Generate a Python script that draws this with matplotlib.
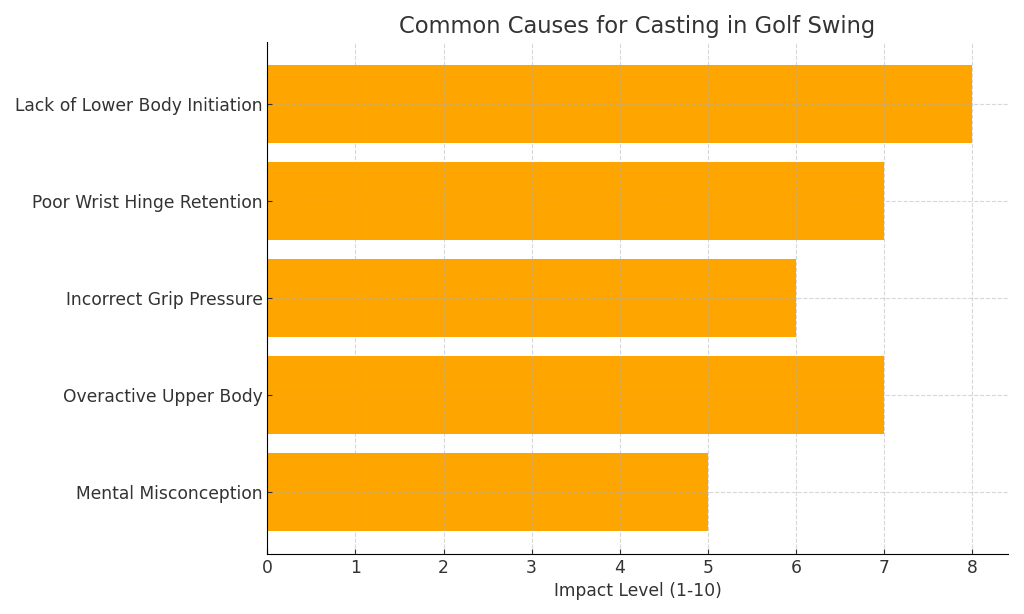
import matplotlib
matplotlib.use('Agg')
import matplotlib.pyplot as plt

causes = ['Lack of Lower Body Initiation', 'Poor Wrist Hinge Retention',
          'Incorrect Grip Pressure', 'Overactive Upper Body', 'Mental Misconception']
impact = [8, 7, 6, 7, 5]

fig, ax = plt.subplots(figsize=(10.24, 6.14), dpi=100)
ax.barh(causes[::-1], impact[::-1], color='#FFA500', height=0.8)

ax.set_title('Common Causes for Casting in Golf Swing', fontsize=16.3, color='#333333')
ax.set_xlabel('Impact Level (1-10)', fontsize=12.3, color='#333333')
ax.tick_params(labelsize=12.3, colors='#333333', direction='in')
ax.set_axisbelow(False)
ax.grid(True, linestyle='--', color='#b0b0b0', linewidth=0.8, alpha=0.5)
ax.spines['top'].set_visible(False)
ax.spines['right'].set_visible(False)
# спины поверх сетки
ax.spines['left'].set_zorder(3)
ax.spines['bottom'].set_zorder(3)

plt.subplots_adjust(left=0.261, right=0.984, top=0.932, bottom=0.098)
plt.savefig('out.png', dpi=100)
plt.close()
